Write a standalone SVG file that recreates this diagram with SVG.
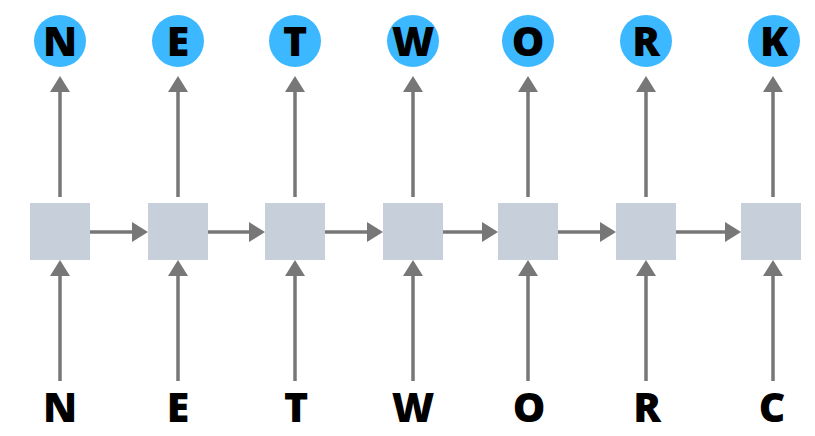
<svg xmlns="http://www.w3.org/2000/svg" width="815" height="436" viewBox="0 0 815 436">
<style>
.box{fill:#c7d0da;}
.circ{fill:#3bb8ff;}
.ln{stroke:#777777;stroke-width:3.5;fill:none;}
.hd{fill:#777777;}
.lab{font-family:"Open Sans","Liberation Sans",sans-serif;font-weight:800;font-size:41px;fill:#000;text-anchor:middle;}
</style>
<rect width="815" height="436" fill="#ffffff"/>
<g id="connectors">
  <g id="up-out">
    <line class="ln" x1="60" y1="197" x2="60" y2="90"/><polygon class="hd" points="60,76 50,92 70,92"/>
    <line class="ln" x1="178" y1="197" x2="178" y2="90"/><polygon class="hd" points="178,76 168,92 188,92"/>
    <line class="ln" x1="295" y1="197" x2="295" y2="90"/><polygon class="hd" points="295,76 285,92 305,92"/>
    <line class="ln" x1="413" y1="197" x2="413" y2="90"/><polygon class="hd" points="413,76 403,92 423,92"/>
    <line class="ln" x1="528" y1="197" x2="528" y2="90"/><polygon class="hd" points="528,76 518,92 538,92"/>
    <line class="ln" x1="646" y1="197" x2="646" y2="90"/><polygon class="hd" points="646,76 636,92 656,92"/>
    <line class="ln" x1="773" y1="197" x2="773" y2="90"/><polygon class="hd" points="773,76 763,92 783,92"/>
  </g>
  <g id="up-in">
    <line class="ln" x1="60" y1="381" x2="60" y2="274"/><polygon class="hd" points="60,260 50,276 70,276"/>
    <line class="ln" x1="178" y1="381" x2="178" y2="274"/><polygon class="hd" points="178,260 168,276 188,276"/>
    <line class="ln" x1="295" y1="381" x2="295" y2="274"/><polygon class="hd" points="295,260 285,276 305,276"/>
    <line class="ln" x1="413" y1="381" x2="413" y2="274"/><polygon class="hd" points="413,260 403,276 423,276"/>
    <line class="ln" x1="528" y1="381" x2="528" y2="274"/><polygon class="hd" points="528,260 518,276 538,276"/>
    <line class="ln" x1="646" y1="381" x2="646" y2="274"/><polygon class="hd" points="646,260 636,276 656,276"/>
    <line class="ln" x1="773" y1="381" x2="773" y2="274"/><polygon class="hd" points="773,260 763,276 783,276"/>
  </g>
  <g id="recurrent">
    <line class="ln" x1="90" y1="232" x2="134" y2="232"/><polygon class="hd" points="148,232 132,222 132,242"/>
    <line class="ln" x1="208" y1="232" x2="251" y2="232"/><polygon class="hd" points="265,232 249,222 249,242"/>
    <line class="ln" x1="325" y1="232" x2="369" y2="232"/><polygon class="hd" points="383,232 367,222 367,242"/>
    <line class="ln" x1="443" y1="232" x2="484" y2="232"/><polygon class="hd" points="498,232 482,222 482,242"/>
    <line class="ln" x1="558" y1="232" x2="602" y2="232"/><polygon class="hd" points="616,232 600,222 600,242"/>
    <line class="ln" x1="676" y1="232" x2="727" y2="232"/><polygon class="hd" points="741,232 725,222 725,242"/>
  </g>
</g>
<g id="cell1"><rect class="box" x="30" y="203" width="60" height="57"/></g>
<g id="cell2"><rect class="box" x="148" y="203" width="60" height="57"/></g>
<g id="cell3"><rect class="box" x="265" y="203" width="60" height="57"/></g>
<g id="cell4"><rect class="box" x="383" y="203" width="60" height="57"/></g>
<g id="cell5"><rect class="box" x="498" y="203" width="60" height="57"/></g>
<g id="cell6"><rect class="box" x="616" y="203" width="60" height="57"/></g>
<g id="cell7"><rect class="box" x="741" y="203" width="60" height="57"/></g>
<g id="out1"><circle class="circ" cx="60" cy="41" r="26"/><text class="lab" x="60" y="55.5">N</text></g>
<g id="out2"><circle class="circ" cx="178" cy="41" r="26"/><text class="lab" x="178" y="55.5">E</text></g>
<g id="out3"><circle class="circ" cx="295" cy="41" r="26"/><text class="lab" x="295" y="55.5">T</text></g>
<g id="out4"><circle class="circ" cx="413" cy="41" r="26"/><text class="lab" x="413" y="55.5">W</text></g>
<g id="out5"><circle class="circ" cx="528" cy="41" r="26"/><text class="lab" x="528" y="55.5">O</text></g>
<g id="out6"><circle class="circ" cx="646" cy="41" r="26"/><text class="lab" x="646" y="55.5">R</text></g>
<g id="out7"><circle class="circ" cx="774" cy="41" r="26"/><text class="lab" x="774" y="55.5">K</text></g>
<g id="in1"><text class="lab" x="60" y="421.5">N</text></g>
<g id="in2"><text class="lab" x="178" y="421.5">E</text></g>
<g id="in3"><text class="lab" x="296" y="421.5">T</text></g>
<g id="in4"><text class="lab" x="413" y="421.5">W</text></g>
<g id="in5"><text class="lab" x="529" y="421.5">O</text></g>
<g id="in6"><text class="lab" x="647" y="421.5">R</text></g>
<g id="in7"><text class="lab" x="772" y="421.5">C</text></g>
</svg>
